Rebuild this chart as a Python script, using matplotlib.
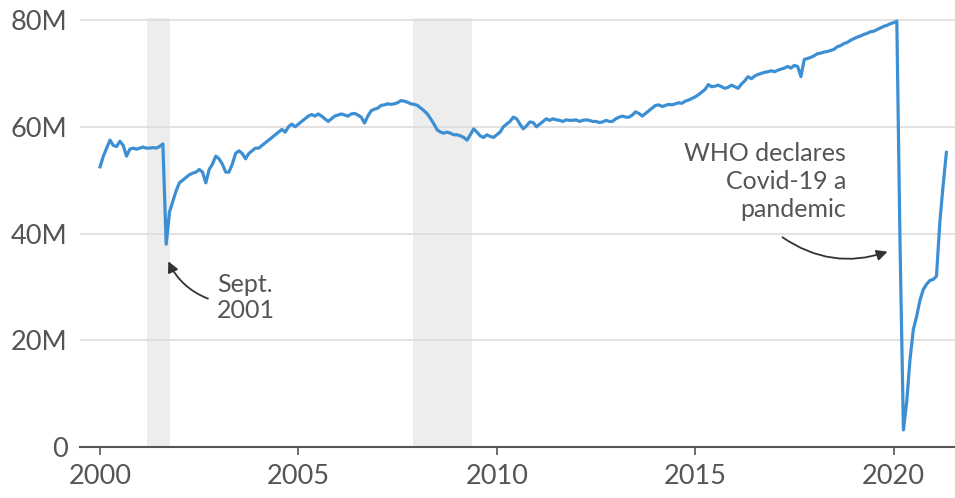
import numpy as np
import matplotlib.pyplot as plt

# Monthly passengers (millions), Jan 2000 - May 2021
y2000 = [52.5, 54.5, 56.0, 57.5, 56.5, 56.3, 57.3, 56.5, 54.5, 55.8, 56.0, 55.8]
y2001 = [56.0, 56.2, 56.0, 56.0, 56.1, 56.0, 56.3, 56.8, 38.0, 44.0, 46.0, 48.0]
y2002 = [49.5, 50.0, 50.5, 51.0, 51.3, 51.5, 52.0, 51.5, 49.5, 52.0, 53.0, 54.5]
y2003 = [54.0, 53.0, 51.5, 51.5, 53.0, 55.0, 55.5, 55.0, 54.0, 55.0, 55.5, 56.0]
y2004 = [56.0, 56.5, 57.0, 57.5, 58.0, 58.5, 59.0, 59.5, 59.0, 60.0, 60.5, 60.0]
y2005 = [60.5, 61.0, 61.5, 62.0, 62.3, 62.0, 62.4, 62.0, 61.5, 61.0, 61.5, 62.0]
y2006 = [62.2, 62.4, 62.2, 62.0, 62.4, 62.5, 62.2, 61.8, 60.7, 62.0, 63.0, 63.3]
y2007 = [63.5, 64.0, 64.1, 64.3, 64.2, 64.3, 64.5, 64.9, 64.8, 64.6, 64.3, 64.2]
y2008 = [64.0, 63.5, 63.0, 62.4, 61.5, 60.5, 59.4, 59.0, 58.8, 59.0, 58.8, 58.5]
y2009 = [58.5, 58.3, 58.0, 57.5, 58.5, 59.6, 59.0, 58.3, 58.0, 58.5, 58.2, 58.0]
y2010 = [58.5, 59.0, 60.0, 60.5, 61.0, 61.8, 61.5, 60.5, 59.6, 60.2, 60.9, 60.8]
y2011 = [60.0, 60.5, 61.0, 61.5, 61.2, 61.5, 61.3, 61.2, 61.0, 61.3, 61.2, 61.2]
y2012 = [61.3, 61.0, 61.2, 61.3, 61.2, 61.0, 61.0, 60.8, 60.9, 61.2, 61.0, 61.0]
y2013 = [61.5, 61.8, 62.0, 61.8, 61.8, 62.2, 62.8, 62.5, 62.0, 62.5, 63.0, 63.5]
y2014 = [64.0, 64.1, 63.8, 64.0, 64.2, 64.1, 64.3, 64.5, 64.4, 64.8, 65.0, 65.3]
y2015 = [65.6, 66.0, 66.5, 67.0, 67.9, 67.5, 67.6, 67.8, 67.5, 67.2, 67.4, 67.8]
y2016 = [67.5, 67.2, 68.0, 68.6, 69.4, 69.0, 69.5, 69.8, 70.0, 70.2, 70.3, 70.5]
y2017 = [70.3, 70.6, 70.8, 71.0, 71.3, 71.0, 71.5, 71.3, 69.4, 72.6, 72.8, 73.0]
y2018 = [73.3, 73.7, 73.8, 74.0, 74.1, 74.3, 74.5, 75.0, 75.2, 75.6, 75.8, 76.2]
y2019 = [76.5, 76.8, 77.0, 77.3, 77.5, 77.8, 77.9, 78.2, 78.5, 78.8, 79.0, 79.3]
y2020 = [79.5, 79.8, 37.0, 3.2, 8.5, 16.5, 22.0, 24.5, 27.5, 29.5, 30.5, 31.2]
y2021 = [31.4, 32.0, 42.0, 49.0, 55.2]

passengers = (y2000 + y2001 + y2002 + y2003 + y2004 + y2005 + y2006 + y2007
              + y2008 + y2009 + y2010 + y2011 + y2012 + y2013 + y2014 + y2015
              + y2016 + y2017 + y2018 + y2019 + y2020 + y2021)
dates = 2000 + np.arange(len(passengers)) / 12

recessions = [(2001.18, 2001.77), (2007.9, 2009.37)]
yticks = [0, 20, 40, 60, 80]
ytick_labels = ['0', '20M', '40M', '60M', '80M']
xticks = [2000, 2005, 2010, 2015, 2020]

plt.rcParams['font.family'] = ['Lato', 'DejaVu Sans']

fig = plt.figure(figsize=(9.55, 4.98), dpi=100)
ax = fig.add_axes([0.084, 0.1024, 0.916, 0.8606])

for start, end in recessions:
    ax.axvspan(start, end, color='#ededed', lw=0, zorder=0)

ax.plot(dates, passengers, color='#3d8fd4', lw=2.3, zorder=3,
        solid_joinstyle='round', clip_on=False)

ax.set_xlim(1999.5, 2021.55)
ax.set_ylim(0, 80.3)
ax.set_yticks(yticks)
ax.set_yticklabels(ytick_labels)
ax.set_xticks(xticks)
ax.grid(axis='y', color='#dddddd', lw=1.2, zorder=1)
ax.set_axisbelow(True)

for side in ['top', 'right', 'left']:
    ax.spines[side].set_visible(False)
ax.spines['bottom'].set_color('#555555')
ax.spines['bottom'].set_linewidth(1.5)

ax.tick_params(axis='y', length=0, pad=9, labelsize=19.5, labelcolor='#555555')
ax.tick_params(axis='x', length=6, width=1.2, color='#555555', pad=6,
               labelsize=19.5, labelcolor='#555555')
for lbl in ax.get_yticklabels():
    lbl.set_verticalalignment('center_baseline')

# Sept. 2001 note and its arrow
ax.text(2002.95, 28.0, 'Sept.\n2001', fontsize=18, color='#555555',
        ha='left', va='center', linespacing=1.2)
ax.annotate('', xy=(2001.72, 34.8), xytext=(2002.72, 27.8),
            arrowprops=dict(arrowstyle='-|>', color='#333333', lw=1.3,
                            mutation_scale=16, shrinkA=0, shrinkB=0,
                            connectionstyle='arc3,rad=-0.2'))

# WHO note and its arrow
ax.text(2018.8, 49.7, 'WHO declares\nCovid-19 a\npandemic', fontsize=18,
        color='#555555', ha='right', va='center', linespacing=1.25)
ax.annotate('', xy=(2019.85, 36.6), xytext=(2017.2, 39.3),
            arrowprops=dict(arrowstyle='-|>', color='#333333', lw=1.3,
                            mutation_scale=16, shrinkA=0, shrinkB=0,
                            connectionstyle='arc3,rad=0.25'))

fig.savefig('out.png', dpi=100)
